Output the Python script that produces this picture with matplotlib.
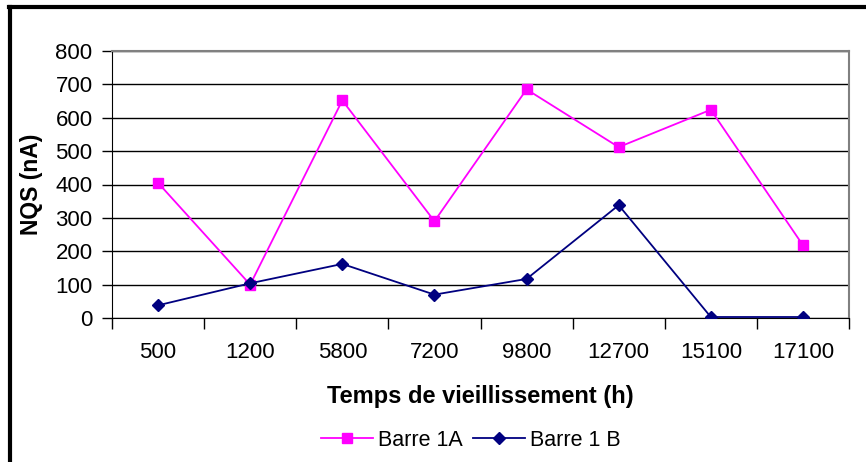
import matplotlib
matplotlib.use("Agg")
import matplotlib.pyplot as plt
from matplotlib.lines import Line2D

# categories (heures de vieillissement)
temps = ["500", "1200", "5800", "7200", "9800", "12700", "15100", "17100"]
# NQS en nA
barre_1a = [405, 100, 652, 290, 685, 512, 624, 218]
barre_1b = [38, 104, 162, 70, 117, 338, 3, 3]

plt.rcParams['font.family'] = ['Liberation Sans', 'DejaVu Sans']

fig = plt.figure(figsize=(8.66, 4.62), dpi=100)
ax = fig.add_axes([112/866, 1 - 318/462, (849-112)/866, (318-51)/462])

x = list(range(len(temps)))
ax.plot(x, barre_1a, color="#FF00FF", lw=1.3, marker="s", ms=6.5,
        label="Barre 1A", zorder=3)
ax.plot(x, barre_1b, color="#000080", lw=1.3, marker="D", ms=6,
        label="Barre 1 B", zorder=4)

ax.set_xlim(-0.5, len(temps) - 0.5)
ax.set_ylim(0, 800)
ax.set_yticks(range(0, 801, 100))
ax.yaxis.grid(True, color="black", lw=1)
ax.set_axisbelow(True)

# x ticks at category boundaries, labels centered
ax.set_xticks([i - 0.5 for i in range(len(temps) + 1)])
ax.set_xticklabels([])
ax.set_xticks(x, minor=True)
ax.set_xticklabels(temps, minor=True)
ax.tick_params(axis="x", which="major", direction="out", length=8, width=1, color="black")
ax.tick_params(axis="x", which="minor", length=0, pad=17, labelsize=16)
ax.tick_params(axis="y", direction="out", length=7, width=1, labelsize=16, pad=7)

for side in ["top", "right"]:
    ax.spines[side].set_color("#808080")
    ax.spines[side].set_linewidth(1.5)
ax.spines["left"].set_color("black")
ax.spines["bottom"].set_color("black")

ax.set_ylabel("NQS (nA)", fontsize=16.5, fontweight="bold")
ax.yaxis.set_label_coords((43 - 112) / (849 - 112), 0.5)
fig.text(480/866, 1 - 396/462, "Temps de vieillissement (h)", fontsize=17,
         fontweight="bold", ha="center", va="center")

fig.legend(loc="center", bbox_to_anchor=(471/866, 1 - 440/462), ncol=2,
           frameon=False, fontsize=15.5, handlelength=2.4, handletextpad=0.25,
           columnspacing=0.45)

# cadre noir epais (haut et gauche)
fig.add_artist(Line2D([10/866, 10/866], [0, 1 - 7/462], color="black", lw=3,
                      transform=fig.transFigure))
fig.add_artist(Line2D([9/866, 1], [1 - 7/462, 1 - 7/462], color="black", lw=3,
                      transform=fig.transFigure))

fig.savefig("out.png", dpi=100)
